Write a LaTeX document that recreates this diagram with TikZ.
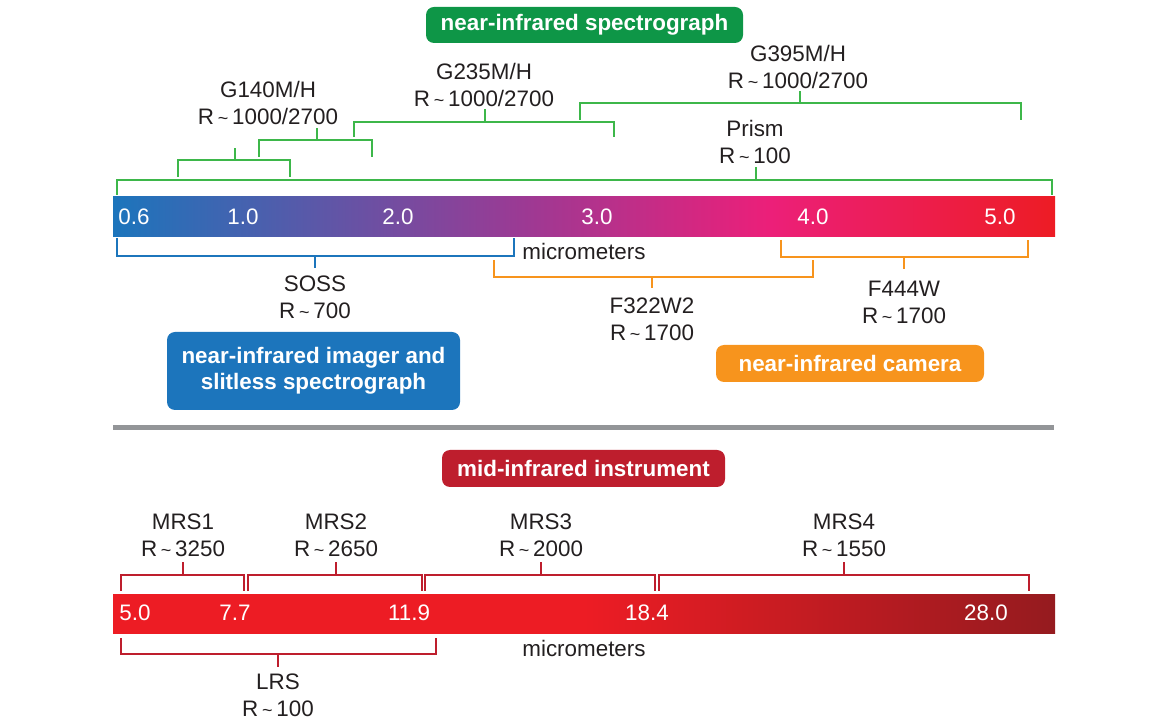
\documentclass[tikz,border=0pt]{standalone}
\usepackage{fontspec}
\setmainfont{Liberation Sans}
\usetikzlibrary{positioning}

\definecolor{nirspec}{HTML}{0E9647}
\definecolor{nirline}{HTML}{3DB74A}
\definecolor{niriss}{HTML}{1C75BC}
\definecolor{nircam}{HTML}{F7941D}
\definecolor{miri}{HTML}{BE1E2D}
\definecolor{barpurple}{HTML}{9B3A94}
\definecolor{barpink}{HTML}{EC1F79}
\definecolor{barred}{HTML}{ED1C24}
\definecolor{bardark}{HTML}{951B1F}
\definecolor{ink}{HTML}{231F20}
\definecolor{rule}{HTML}{939598}

\pgfdeclarehorizontalshading{nirshade}{100bp}{color(0bp)=(niriss); color(25bp)=(niriss);
  color(46.6bp)=(barpurple); color(59.9bp)=(barpink); color(75bp)=(barred); color(100bp)=(barred)}
\pgfdeclarehorizontalshading{mirishade}{100bp}{color(0bp)=(barred); color(50bp)=(barred);
  color(75bp)=(bardark); color(100bp)=(bardark)}

\newcommand{\rs}{R\,{\small\textasciitilde}\,}

\begin{document}
\begin{tikzpicture}[
        x=0.5pt, y=-0.5pt,
        every node/.style = {inner sep=0pt, font=\fontsize{11.2}{13.5}\selectfont},
        lbl/.style = {text=ink, align=center},
        tick/.style = {text=white},
        inst/.style = {fill=#1, rounded corners=4pt, text=white, align=center,
          font=\bfseries\fontsize{11.2}{13.2}\selectfont},
        brk/.style = {draw=#1, line width=1pt}]
      \useasboundingbox (0,0) rectangle (1156,726);

      % near-infrared part
      \node[inst=nirspec, minimum width=158.5pt, minimum height=18pt] (nirspec) at (584.5,25) {near-infrared spectrograph};
      \node[lbl] (g140) at (268,103) {G140M/H\\\rs1000/2700};
      \node[lbl] (g235) at (484,85.5) {G235M/H\\\rs1000/2700};
      \node[lbl] (g395) at (798,67) {G395M/H\\\rs1000/2700};
      \node[lbl] (prism) at (755,141.5) {Prism\\\rs100};
      \foreach \a/\b/\y/\e/\s/\t in {117/1052/180/195/756/167, 178/290/160/177/235/148,
          259/372/140/157/317/128, 354/614/122/137/485/109, 580/1021/103/120/800/91}
        \draw[brk=nirline] (\a,\e) |- (\b,\y) -- (\b,\e) (\s,\y) -- (\s,\t);

      \shade[shading=nirshade] (113,197) rectangle (1055,237);
      \foreach \x/\v in {134/0.6, 243/1.0, 398/2.0, 597/3.0, 813/4.0, 1000/5.0}
        \node[tick] (n\x) at (\x,217) {\v};
      \node[lbl] (um1) at (584,251) {micrometers};

      \draw[brk=niriss] (117,238) |- (514,256) -- (514,238) (315,256) -- (315,268);
      \draw[brk=nircam] (494,260) |- (813,277) -- (813,260) (652,277) -- (652,288);
      \draw[brk=nircam] (781,240) |- (1028,257) -- (1028,240) (904,257) -- (904,269);
      \node[lbl] (soss) at (315,297.5) {SOSS\\\rs700};
      \node[lbl] (f322) at (652,319) {F322W2\\\rs1700};
      \node[lbl] (f444) at (904,302) {F444W\\\rs1700};
      \node[inst=niriss, minimum width=146.5pt, minimum height=39pt] (niriss) at (313.5,371) {near-infrared imager and\\slitless spectrograph};
      \node[inst=nircam, minimum width=134pt, minimum height=18.5pt] (nircam) at (850,363.5) {near-infrared camera};

      \draw[rule, line width=2.5pt] (113,428) -- (1054,428);

      % mid-infrared part
      \node[inst=miri, minimum width=141.5pt, minimum height=18.5pt] (miri) at (583.5,468.5) {mid-infrared instrument};
      \foreach \a/\b/\s/\n/\r in {121/244/183/1/3250, 248/422/336/2/2650, 425/655/541/3/2000, 659/1029/844/4/1550} {
        \draw[brk=miri] (\a,591) |- (\b,575) -- (\b,591) (\s,575) -- (\s,562);
        \node[lbl] (mrs\n) at (\s,535) {MRS\n\\\rs\r};
      }
      \shade[shading=mirishade] (113,594) rectangle (1055,633);
      \foreach \x/\v in {135/5.0, 235/7.7, 409/11.9, 647/18.4, 986/28.0}
        \node[tick] (m\x) at (\x,613) {\v};
      \node[lbl] (um2) at (584,648) {micrometers};
      \draw[brk=miri] (121,638) |- (436,654) -- (436,638) (278,654) -- (278,667);
      \node[lbl] (lrs) at (278,695.5) {LRS\\\rs100};
    \end{tikzpicture}
\end{document}
